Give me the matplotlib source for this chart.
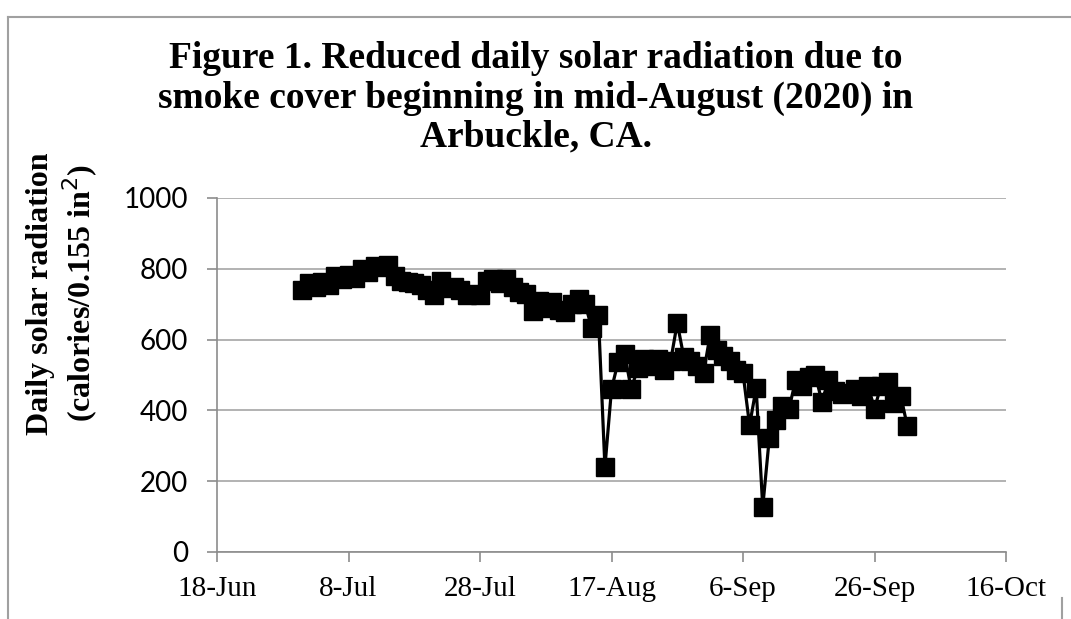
import datetime as dt
import matplotlib
matplotlib.use("Agg")
import matplotlib.pyplot as plt
import matplotlib.dates as mdates
from matplotlib.lines import Line2D

# daily values, 1-Jul-2020 .. 1-Oct-2020
start_day = dt.date(2020, 7, 1)
radiation = [
    740, 760, 748, 762, 755, 780, 770, 782, 775, 800,    # Jul 1-10
    790, 808, 805, 810, 780, 765, 762, 760, 755, 740,    # Jul 11-20
    725, 765, 745, 748, 740, 725, 730, 726, 765, 770,    # Jul 21-30
    760,                                                 # Jul 31
    770, 750, 735, 730, 680, 710, 690, 705, 685, 678,    # Aug 1-10
    700, 715, 700, 632, 670, 240, 460, 537, 559, 460,    # Aug 11-20
    520, 545, 525, 545, 515, 540, 647, 550, 540, 525,    # Aug 21-30
    506,                                                 # Aug 31
    613, 570, 555, 540, 514, 505, 358, 463, 127, 322,    # Sep 1-10
    373, 412, 405, 485, 470, 495, 500, 425, 485, 455,    # Sep 11-20
    445, 450, 460, 440, 470, 405, 470, 480, 420, 440,    # Sep 21-30
    355,                                                 # Oct 1
]
dates = [start_day + dt.timedelta(days=i) for i in range(len(radiation))]

title = ("Figure 1. Reduced daily solar radiation due to\n"
         "smoke cover beginning in mid-August (2020) in\n"
         "Arbuckle, CA.")
y_ticks = [0, 200, 400, 600, 800, 1000]
x_first = dt.date(2020, 6, 18)
x_last = dt.date(2020, 10, 16)

fig = plt.figure(figsize=(10.71, 6.19), dpi=100)
ax = fig.add_axes([217/1071, 1 - 552/619, (1006 - 217)/1071, (552 - 198)/619])

ax.plot(dates, radiation, color="black", linewidth=2.3, marker="s",
        markersize=13.5, markerfacecolor="black", markeredgecolor="black",
        zorder=3)

ax.set_xlim(x_first, x_last)
ax.set_ylim(0, 1000)
ax.set_yticks(y_ticks)
ax.set_xticks([x_first + dt.timedelta(days=20*i) for i in range(7)])
ax.xaxis.set_major_formatter(plt.FuncFormatter(
    lambda v, pos: "{}-{}".format(mdates.num2date(v).day,
                                  mdates.num2date(v).strftime("%b"))))

grid_col = "#a6a6a6"
ax.grid(axis="y", color=grid_col, linewidth=1.2)
ax.set_axisbelow(True)
for side in ["top", "right"]:
    ax.spines[side].set_visible(False)
for side in ["left", "bottom"]:
    ax.spines[side].set_color("#8c8c8c")
    ax.spines[side].set_linewidth(1.2)
ax.tick_params(axis="both", colors="#8c8c8c", length=7, width=1.2)
ax.tick_params(axis="x", labelcolor="black", pad=10)
ax.tick_params(axis="y", labelcolor="black", pad=14)

for lab in ax.get_yticklabels():
    lab.set_fontfamily("Lato")
    lab.set_fontsize(20)
for lab in ax.get_xticklabels():
    lab.set_fontfamily("Liberation Serif")
    lab.set_fontsize(21)

ax.set_ylabel("Daily solar radiation\n(calories/0.155 in$^2$)",
              fontfamily="Liberation Serif", fontweight="bold", fontsize=23,
              linespacing=1.2)
ax.yaxis.set_label_coords(-0.148, 0.73)

fig.text(0.5, 1 - 98/619, title, ha="center", va="center",
         fontfamily="Liberation Serif", fontweight="bold", fontsize=27,
         linespacing=1.15)

# chart-area border
border = "#a0a0a0"
fig.add_artist(Line2D([8/1071, 8/1071], [0, 1 - 17/619], color=border,
                      linewidth=1.5, transform=fig.transFigure))
fig.add_artist(Line2D([8/1071, 1], [1 - 17/619, 1 - 17/619], color=border,
                      linewidth=1.5, transform=fig.transFigure))
fig.add_artist(Line2D([1062/1071, 1062/1071], [0, 1 - 598/619], color=border,
                      linewidth=1.5, transform=fig.transFigure))

fig.savefig("out.png", dpi=100)
